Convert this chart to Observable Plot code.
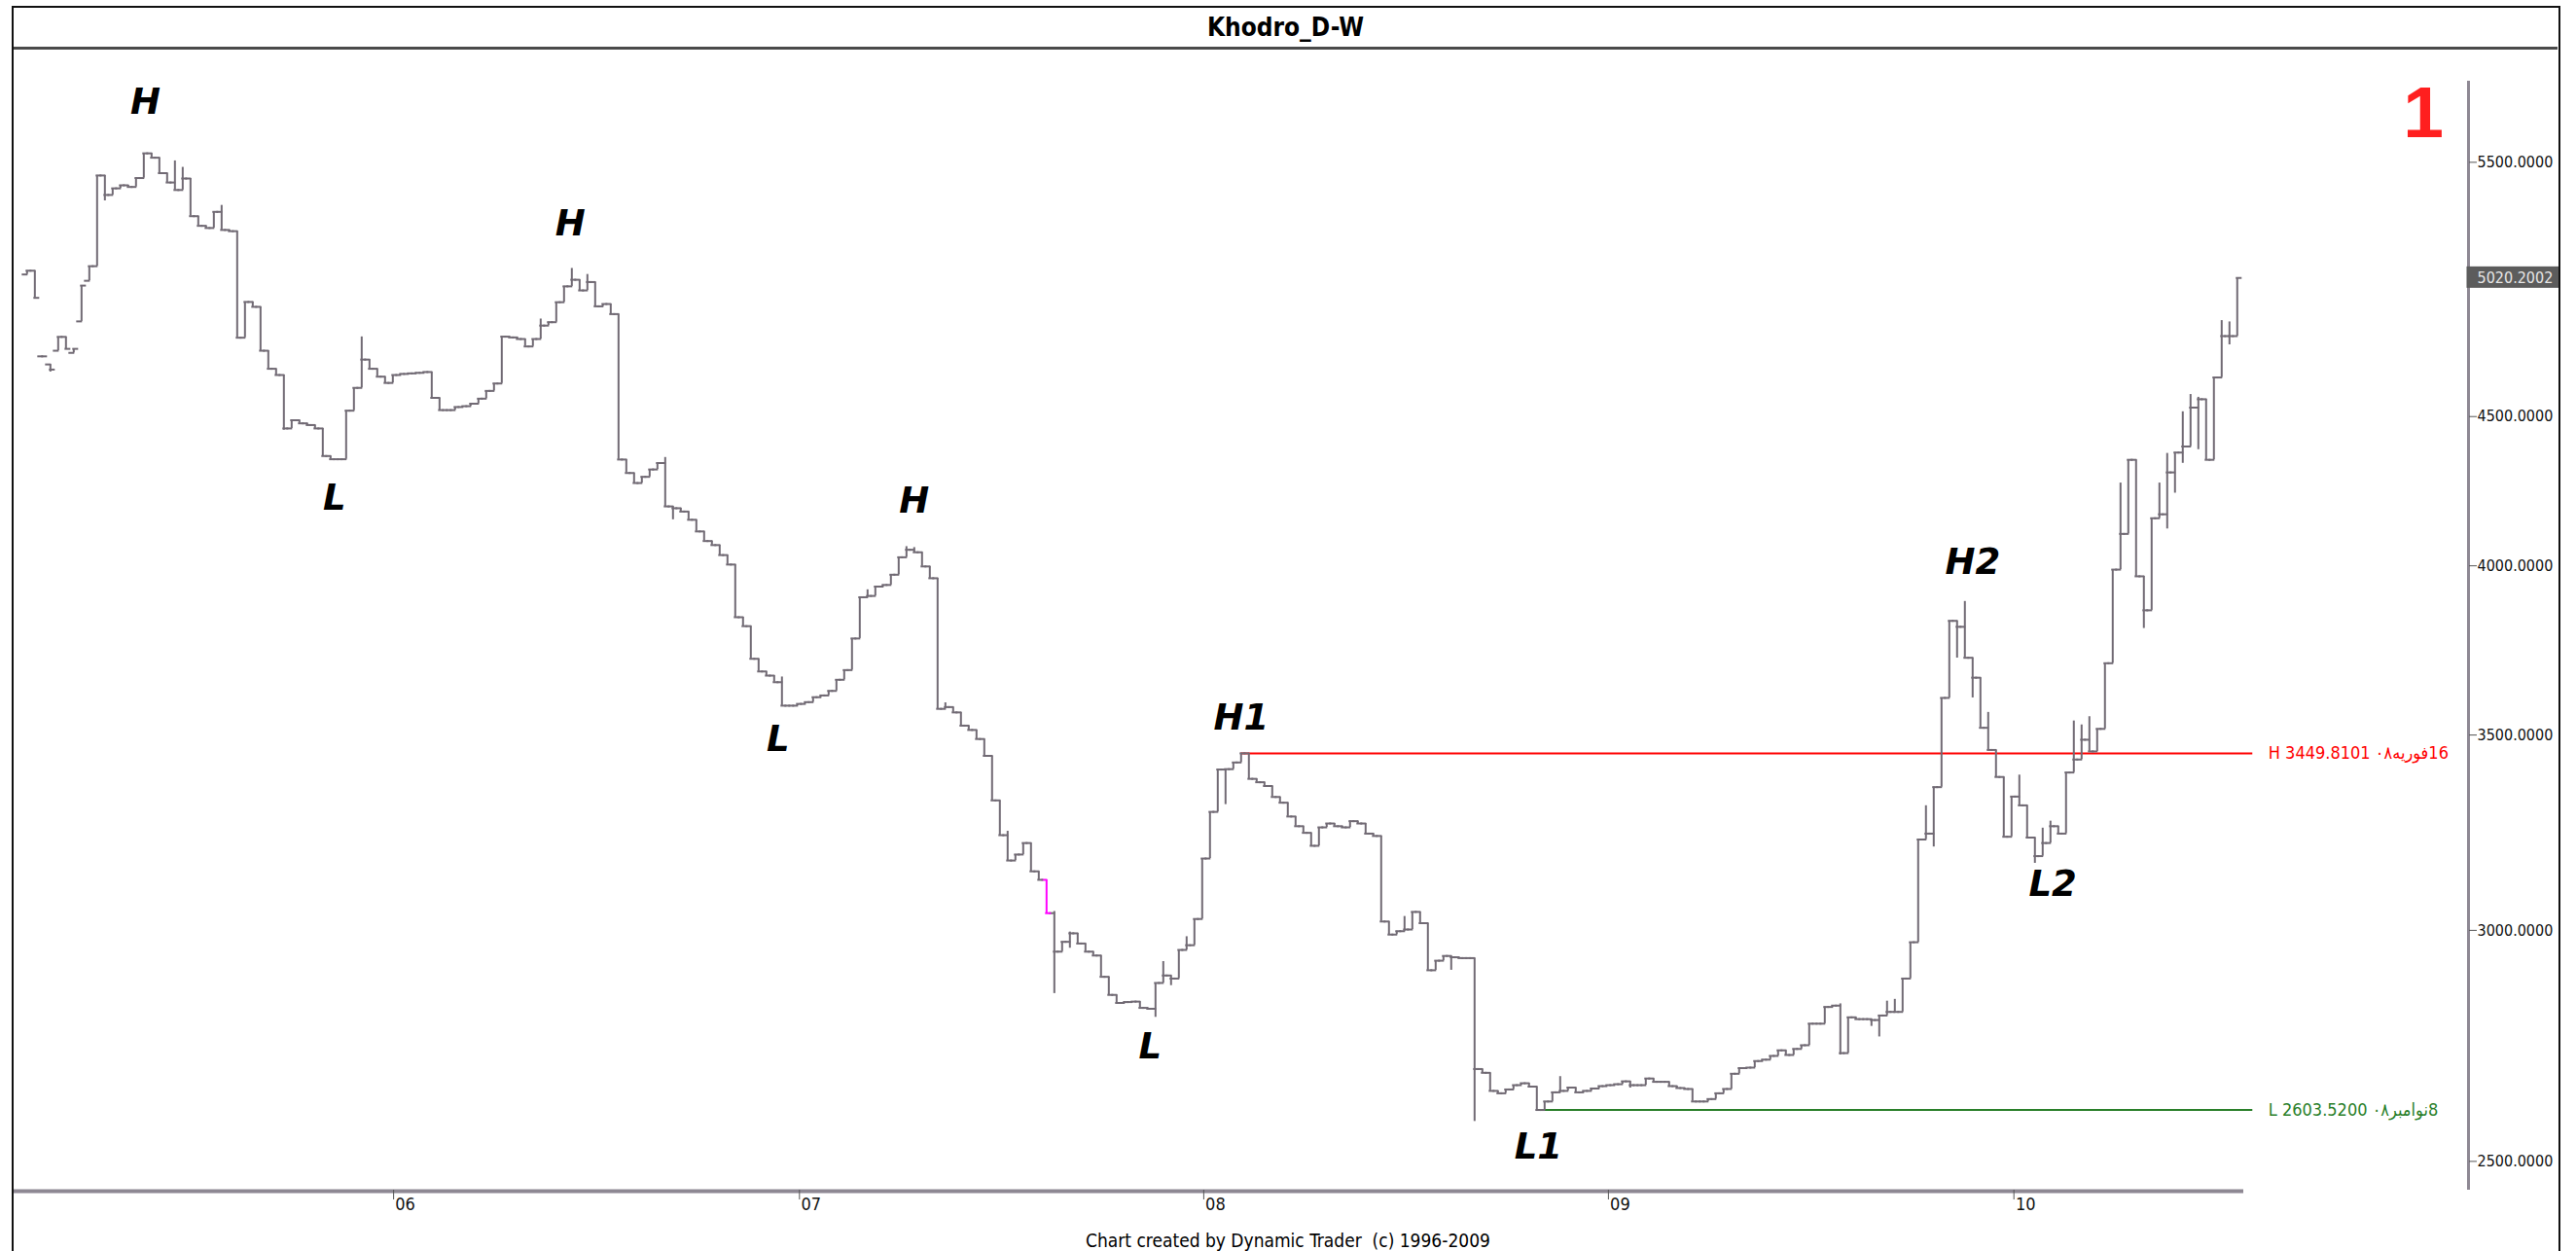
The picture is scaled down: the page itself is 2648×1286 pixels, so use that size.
<!DOCTYPE html>
<html lang="en">
<head>
<meta charset="utf-8">
<title>Khodro_D-W</title>
<script src="https://cdn.jsdelivr.net/npm/d3@7"></script>
<script src="https://cdn.jsdelivr.net/npm/@observablehq/plot@0.6"></script>
<style>
  html, body { margin: 0; padding: 0; background: #fff; }
  #wrap { position: relative; width: 2648px; height: 1286px; overflow: hidden; background: #fff;
          font-family: "DejaVu Sans Condensed", "DejaVu Sans", sans-serif; color: #000; }
  #chart { position: absolute; left: 0; top: 0; }
  #chart svg { display: block; }
  #titlebar { position: absolute; left: 14px; top: 8px; width: 2615px; height: 40px;
              border-bottom: 3px solid #4a4a4a; display: flex; align-items: center; justify-content: center;
              font-weight: bold; font-size: 26px; background: #fff; }
  #badge { position: absolute; left: 2461px; top: 78px; width: 60px; text-align: center; color: #ff1f1f;
           font: bold 75px "Liberation Sans", Arial, sans-serif; line-height: 75px; }
  #caption { position: absolute; left: 0; width: 2648px; top: 1263px; line-height: 24px; text-align: center;
             font-size: 19px; white-space: pre; }
  #frame { position: absolute; left: 12px; top: 6px; width: 2620px; height: 1300px; border: 2px solid #111;
           box-sizing: border-box; pointer-events: none; }
</style>
</head>
<body>
<div id="wrap">
  <div id="chart"></div>
  <div id="titlebar">Khodro_D-W</div>
  <div id="badge">1</div>
  <div id="caption">Chart created by Dynamic Trader  (c) 1996-2009</div>
  <div id="frame"></div>
</div>
<script>
// ---- weekly bars (bar index 0..284), closes ----
const closes = [
  5049, 4942, 4719, 4670, 4792, 4747, 4747, 4990, 5067, 5443,
  5360, 5388, 5401, 5394, 5432, 5539, 5520, 5453, 5413, 5381,
  5430, 5271, 5231, 5222, 5289, 5214, 5209, 4789, 4926, 4907,
  4740, 4673, 4650, 4458, 4487, 4476, 4470, 4458, 4362, 4351,
  4351, 4521, 4603, 4707, 4673, 4644, 4621, 4650, 4654, 4656,
  4658, 4661, 4567, 4523, 4523, 4534, 4537, 4546, 4564, 4592,
  4619, 4793, 4790, 4784, 4756, 4784, 4835, 4848, 4925, 4987,
  5013, 4971, 5004, 4909, 4918, 4879, 4350, 4304, 4270, 4291,
  4316, 4338, 4192, 4186, 4175, 4148, 4110, 4079, 4066, 4034,
  4004, 3841, 3814, 3717, 3680, 3668, 3649, 3582, 3582, 3587,
  3592, 3606, 3611, 3624, 3656, 3684, 3777, 3902, 3906, 3935,
  3940, 3972, 4027, 4051, 4043, 3998, 3961, 3573, 3578, 3563,
  3526, 3514, 3489, 3443, 3324, 3234, 3170, 3185, 3214, 3143,
  3122, 3041, 2950, 2973, 2993, 2969, 2950, 2941, 2892, 2851,
  2833, 2835, 2836, 2822, 2820, 2878, 2895, 2888, 2954, 2965,
  3027, 3175, 3294, 3406, 3407, 3425, 3449.8101, 3381, 3372, 3362,
  3333, 3318, 3282, 3257, 3240, 3207, 3254, 3264, 3257, 3254,
  3270, 3264, 3238, 3232, 3021, 2990, 2998, 3002, 3044, 3017,
  2907, 2929, 2940, 2937, 2935, 2935, 2689, 2681, 2643, 2638,
  2646, 2655, 2659, 2652, 2603.52, 2621, 2640, 2643, 2650, 2640,
  2643, 2648, 2653, 2655, 2657, 2663, 2655, 2655, 2669, 2662,
  2662, 2653, 2649, 2647, 2621, 2621, 2626, 2638, 2647, 2679,
  2691, 2692, 2706, 2709, 2717, 2729, 2719, 2732, 2740, 2787,
  2787, 2824, 2827, 2723, 2801, 2797, 2797, 2795, 2805, 2813,
  2813, 2888, 2972, 3223, 3238, 3359, 3604, 3830, 3812, 3720,
  3662, 3520, 3459, 3386, 3230, 3334, 3311, 3228, 3181, 3214,
  3257, 3238, 3398, 3433, 3487, 3455, 3517, 3704, 3988, 4102,
  4349, 3967, 3862, 4153, 4166, 4306, 4374, 4395, 4532, 4562,
  4349, 4641, 4795, 4795, 5020.2002
];
// bars whose open differs from the previous close: [bar, open]
const openGaps = [[0, 5034], [2, 4719], [3, 4689], [4, 4740], [6, 4732], [7, 4851], [8, 5009]];
// intrabar extremes beyond open/close: [bar, price]
const highWicks = [
  [19, 5506], [20, 5478], [25, 5316], [43, 4792], [66, 4860], [70, 5058], [72, 5034], [82, 4357],
  [97, 3664], [108, 3925], [113, 4061], [114, 4058], [118, 3590], [126, 3244], [132, 3045], [134, 2996],
  [146, 2927], [149, 2985], [160, 3339], [177, 3033], [197, 2673], [233, 2831], [239, 2837], [240, 2841],
  [244, 3310], [249, 3889], [252, 3563], [256, 3391], [259, 3252], [260, 3270], [263, 3539], [264, 3528],
  [265, 3551], [269, 4270], [274, 4270], [275, 4371], [277, 4517], [278, 4579], [279, 4569], [282, 4854],
  [283, 4849]
];
const lowWicks = [
  [3, 4661], [10, 5335], [33, 4452], [83, 4148], [132, 2854], [134, 2958], [145, 2801], [147, 2872],
  [154, 3313], [183, 2907], [186, 2580], [206, 2649], [233, 2719], [237, 2781], [238, 2758], [241, 2813],
  [245, 3204], [248, 3719], [250, 3604], [258, 3163], [268, 3963], [272, 3807], [275, 4118], [276, 4236],
  [277, 4337], [279, 4384], [283, 4762]
];
const highlightBars = [131];

// swing labels: text, bar position, price at label centre
const pivotText  = ["H", "L", "H", "H", "L", "H1", "L", "L1", "H2", "L2"];
const pivotIndex = [15.2, 39.5, 69.8, 114, 96.5, 156, 144.3, 194.2, 250, 260.3];
const pivotPrice = [5766, 4218, 5238, 4209, 3487, 3547, 2736, 2528, 4010, 3110];

// horizontal levels
const levelKind  = ["H", "L"];
const levelPrice = [3449.8101, 2603.52];
const levelFrom  = [156, 194];
const levelDate  = ["16فوریه۰۸", "8نوامبر۰۸"];
const levelColor = ["#ff0000", "#2a7f2a"];

// axes
const yTicks = [2500, 3000, 3500, 4000, 4500, 5500];
const yearLabels = ["06", "07", "08", "09", "10"];
const yearIndex  = [47.1, 99.25, 151.2, 203.2, 255.3];
const xDomain = [-1.79, 284.84];
const yDomain = [2443.8, 5967.8];

// ---- build ----
const BAR = "#716a74", HIL = "#ff00ff", AXIS = "#8e8893";
const openMap = new Map(openGaps), hiMap = new Map(highWicks), loMap = new Map(lowWicks);
const bars = closes.map((close, i) => {
  const open = openMap.has(i) ? openMap.get(i) : (i > 0 ? closes[i - 1] : close);
  let high = Math.max(open, close), low = Math.min(open, close);
  if (hiMap.has(i)) high = Math.max(high, hiMap.get(i));
  if (loMap.has(i)) low = Math.min(low, loMap.get(i));
  return {i, open, high, low, close, color: highlightBars.includes(i) ? HIL : BAR};
});
const lastIndex = closes.length - 1;
const lastLabel = bars[lastIndex].close.toFixed(4);
const labels = pivotText.map((text, k) => ({text, index: pivotIndex[k], price: pivotPrice[k]}));
const levels = levelKind.map((kind, k) => ({
  kind, price: levelPrice[k], from: levelFrom[k], color: levelColor[k],
  text: `${kind} ${levelPrice[k].toFixed(4)} \u202B${levelDate[k]}\u202C`
}));
const years = yearLabels.map((label, k) => ({label, index: yearIndex[k]}));
const axisShift = 231;

const chart = Plot.plot({
  width: 2631, height: 1286,
  marginTop: 60, marginBottom: 63, marginLeft: 13, marginRight: 325,
  x: {type: "linear", domain: xDomain, label: null},
  y: {type: "log", domain: yDomain, label: null},
  color: {type: "identity"},
  style: {background: "white", fontFamily: "'DejaVu Sans Condensed', 'DejaVu Sans', sans-serif", fontSize: "18px", color: "#000"},
  marks: [
    // x axis baseline and y axis line
    Plot.ruleY([yDomain[0]], {stroke: AXIS, strokeWidth: 4, dy: 1}),
    Plot.ruleX([xDomain[1]], {dx: axisShift, stroke: AXIS, strokeWidth: 3, insetTop: 23}),
    Plot.axisX({ticks: yearIndex, tickSize: 10, tickFormat: () => "", label: null, stroke: "#555"}),
    Plot.text(years, {x: "index", text: "label", frameAnchor: "bottom", dy: 20, dx: 12, fontSize: 18, fill: "#111"}),
    Plot.axisY({anchor: "right", ticks: yTicks, tickFormat: d => d.toFixed(4), tickSize: 8, tickPadding: 1,
                dx: axisShift, fontSize: 16, label: null, stroke: "#555", fill: "#111", textAnchor: "start"}),
    // level lines
    Plot.ruleY(levels, {y: "price", x1: "from", x2: () => lastIndex + 2, stroke: "color", strokeWidth: 2}),
    Plot.text(levels, {x: () => lastIndex + 2, y: "price", text: "text", fill: "color", textAnchor: "start",
                       dx: 16, fontSize: 18}),
    // OHLC bars
    Plot.ruleX(bars, {x: "i", y1: "low", y2: "high", stroke: "color", strokeWidth: 2}),
    Plot.ruleY(bars, {y: "open", x1: d => d.i - 0.5, x2: "i", stroke: "color", strokeWidth: 2, strokeLinecap: "square"}),
    Plot.ruleY(bars, {y: "close", x1: "i", x2: d => d.i + 0.5, stroke: "color", strokeWidth: 2, strokeLinecap: "square"}),
    // swing labels
    Plot.text(labels, {x: "index", y: "price", text: "text", fontSize: 37, fontWeight: "bold", fontStyle: "italic",
                       fontFamily: "'DejaVu Sans', sans-serif", fill: "#000"}),
    // last price tag
    Plot.text([bars[lastIndex]], {y: "close", frameAnchor: "right", dx: axisShift + 9, textAnchor: "start",
                                  text: d => d.close.toFixed(4), fill: "#e6e6e6", fontSize: 16})
  ]
});
document.getElementById("chart").appendChild(chart);

// dark box behind the last-price tag
const tag = Array.from(chart.querySelectorAll("text")).find(t => t.textContent === lastLabel);
if (tag) {
  const bb = tag.getBBox();
  const rect = document.createElementNS("http://www.w3.org/2000/svg", "rect");
  rect.setAttribute("x", bb.x - 11);
  rect.setAttribute("y", bb.y - 2);
  rect.setAttribute("width", bb.width + 40);
  rect.setAttribute("height", bb.height + 3);
  rect.setAttribute("fill", "#5c5c5c");
  const tf = tag.getAttribute("transform");
  if (tf) rect.setAttribute("transform", tf);
  tag.parentNode.insertBefore(rect, tag);
}
</script>
</body>
</html>
